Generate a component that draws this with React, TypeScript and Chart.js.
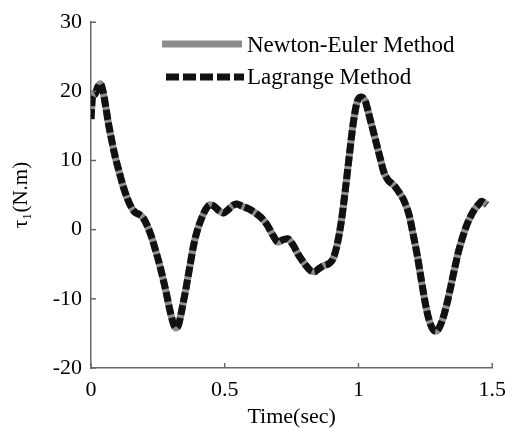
import React, { useEffect, useRef } from "react";
import { Chart, registerables } from "chart.js";

Chart.register(...registerables);

// ---- data ----
const timeSec = [
  0.0, 0.006, 0.015, 0.025, 0.035, 0.045, 0.055, 0.065, 0.077, 0.09,
  0.105, 0.12, 0.135, 0.15, 0.165, 0.18, 0.195, 0.21, 0.225, 0.24,
  0.26, 0.28, 0.297, 0.31, 0.318, 0.327, 0.34, 0.355, 0.37, 0.385,
  0.4, 0.415, 0.43, 0.445, 0.46, 0.48, 0.495, 0.51, 0.53, 0.545,
  0.565, 0.59, 0.615, 0.64, 0.66, 0.68, 0.7, 0.715, 0.735, 0.755,
  0.775, 0.8, 0.82, 0.835, 0.85, 0.87, 0.89, 0.905, 0.92, 0.935,
  0.95, 0.965, 0.98, 0.995, 1.01, 1.025, 1.04, 1.06, 1.08, 1.095,
  1.11, 1.13, 1.15, 1.17, 1.19, 1.205, 1.22, 1.235, 1.25, 1.265,
  1.28, 1.29, 1.3, 1.315, 1.33, 1.345, 1.36, 1.375, 1.39, 1.405,
  1.42, 1.435, 1.45, 1.46, 1.47, 1.48,
];
const torque = [
  16.0, 19.3, 19.6, 20.6, 21.1, 20.0, 17.8, 15.4, 13.0, 10.6,
  8.4, 6.3, 4.6, 3.3, 2.5, 2.2, 1.7, 0.6, -0.9, -2.8,
  -5.6, -8.9, -12.0, -13.8, -14.2, -13.8, -11.5, -8.5, -5.2, -2.0,
  0.2, 1.8, 3.0, 3.6, 3.4, 2.7, 2.4, 2.8, 3.5, 3.7,
  3.4, 3.0, 2.4, 1.6, 0.6, -0.8, -1.8, -1.5, -1.3, -2.2,
  -3.6, -5.0, -5.9, -6.1, -5.7, -5.2, -4.9, -4.2, -2.2, 1.0,
  5.5, 10.5, 15.3, 18.5, 19.2, 18.6, 16.5, 13.5, 10.5, 8.3,
  7.2, 6.5, 5.5, 4.2, 2.0, -0.8, -3.8, -7.3, -10.7, -13.2,
  -14.5, -14.7, -14.3, -12.9, -10.8, -8.2, -5.5, -3.0, -1.0, 0.7,
  2.0, 3.0, 3.7, 4.1, 3.9, 3.6,
];
const xTickValues = [0, 0.5, 1, 1.5];
const yTickValues = [-20, -10, 0, 10, 20, 30];
const seriesNames = ["Newton-Euler Method", "Lagrange Method"];
const xTitle = "Time(sec)";
const yTitle = "\u03c4\u2081(N.m)";

const FONT = "'Liberation Serif', 'Times New Roman', serif";
const AXIS_COLOR = "#6a6a6a";
const TEXT = "#000000";
const GRAY = "#8c8c8c";
const BLACK = "#111111";

export default function App() {
  const ref = useRef<HTMLCanvasElement | null>(null);

  useEffect(() => {
    if (!ref.current) return;
    const pts = timeSec.map((t, i) => ({ x: t, y: torque[i] }));

    const inwardTicks = {
      id: "inwardTicks",
      afterDraw(chart: any) {
        const { ctx, chartArea, scales } = chart;
        ctx.save();
        ctx.strokeStyle = AXIS_COLOR;
        ctx.lineWidth = 1.5;
        xTickValues.forEach((v) => {
          const x = scales.x.getPixelForValue(v);
          ctx.beginPath();
          ctx.moveTo(x, chartArea.bottom);
          ctx.lineTo(x, chartArea.bottom - 5);
          ctx.stroke();
        });
        yTickValues.forEach((v) => {
          const y = scales.y.getPixelForValue(v);
          ctx.beginPath();
          ctx.moveTo(chartArea.left, y);
          ctx.lineTo(chartArea.left + 5, y);
          ctx.stroke();
        });
        ctx.restore();
      },
    };

    const legendPlugin = {
      id: "insetLegend",
      afterDraw(chart: any) {
        const { ctx } = chart;
        ctx.save();
        ctx.lineWidth = 7;
        ctx.lineCap = "butt";
        ctx.strokeStyle = GRAY;
        ctx.beginPath();
        ctx.moveTo(162, 44);
        ctx.lineTo(242, 44);
        ctx.stroke();
        ctx.strokeStyle = BLACK;
        ctx.setLineDash([13, 4]);
        ctx.beginPath();
        ctx.moveTo(166, 77);
        ctx.lineTo(244, 77);
        ctx.stroke();
        ctx.setLineDash([]);
        ctx.fillStyle = TEXT;
        ctx.font = `23px ${FONT}`;
        ctx.textAlign = "left";
        ctx.textBaseline = "alphabetic";
        ctx.fillText(seriesNames[0], 247, 52);
        ctx.fillText(seriesNames[1], 247, 84);
        ctx.restore();
      },
    };

    const chart = new Chart(ref.current, {
      type: "line",
      data: {
        datasets: [
          {
            label: seriesNames[0],
            data: pts,
            borderColor: GRAY,
            borderWidth: 7,
            pointRadius: 0,
            cubicInterpolationMode: "monotone",
            borderJoinStyle: "round",
            fill: false,
            order: 2,
          },
          {
            label: seriesNames[1],
            data: pts,
            borderColor: BLACK,
            borderWidth: 7,
            borderDash: [10, 3],
            pointRadius: 0,
            cubicInterpolationMode: "monotone",
            borderJoinStyle: "round",
            fill: false,
            order: 1,
          },
        ],
      },
      options: {
        animation: false,
        responsive: false,
        devicePixelRatio: 1,
        layout: { padding: { left: 0, right: 14, top: 22, bottom: 0 } },
        plugins: { legend: { display: false }, tooltip: { enabled: false } },
        scales: {
          x: {
            type: "linear",
            min: 0,
            max: 1.5,
            afterBuildTicks: (s: any) => {
              s.ticks = xTickValues.map((v) => ({ value: v }));
            },
            afterFit: (s: any) => {
              s.height = 60;
            },
            grid: { display: false, drawTicks: false },
            border: { display: true, color: AXIS_COLOR, width: 1.5 },
            ticks: {
              padding: 9,
              color: TEXT,
              font: { family: FONT, size: 22 },
              maxRotation: 0,
              callback: (v: any) => String(v),
            },
            title: {
              display: true,
              text: xTitle,
              color: TEXT,
              font: { family: FONT, size: 22, lineHeight: 1 },
              padding: { top: 0, bottom: 0 },
            },
          },
          y: {
            type: "linear",
            min: -20,
            max: 30,
            afterBuildTicks: (s: any) => {
              s.ticks = yTickValues.map((v) => ({ value: v }));
            },
            afterFit: (s: any) => {
              s.width = 91;
            },
            grid: { display: false, drawTicks: false },
            border: { display: true, color: AXIS_COLOR, width: 1.5 },
            ticks: {
              padding: 9,
              color: TEXT,
              font: { family: FONT, size: 22 },
              callback: (v: any) => String(v),
            },
            title: {
              display: true,
              text: yTitle,
              color: TEXT,
              font: { family: FONT, size: 21, lineHeight: 1 },
              padding: { top: 11, bottom: 0 },
            },
          },
        },
      },
      plugins: [inwardTicks, legendPlugin],
    } as any);

    return () => chart.destroy();
  }, []);

  return (
    <div
      style={{
        position: "fixed",
        left: 0,
        top: 0,
        width: 515,
        height: 428,
        background: "#ffffff",
      }}
    >
      <canvas ref={ref} width={515} height={428} style={{ width: 515, height: 428, display: "block" }} />
    </div>
  );
}
